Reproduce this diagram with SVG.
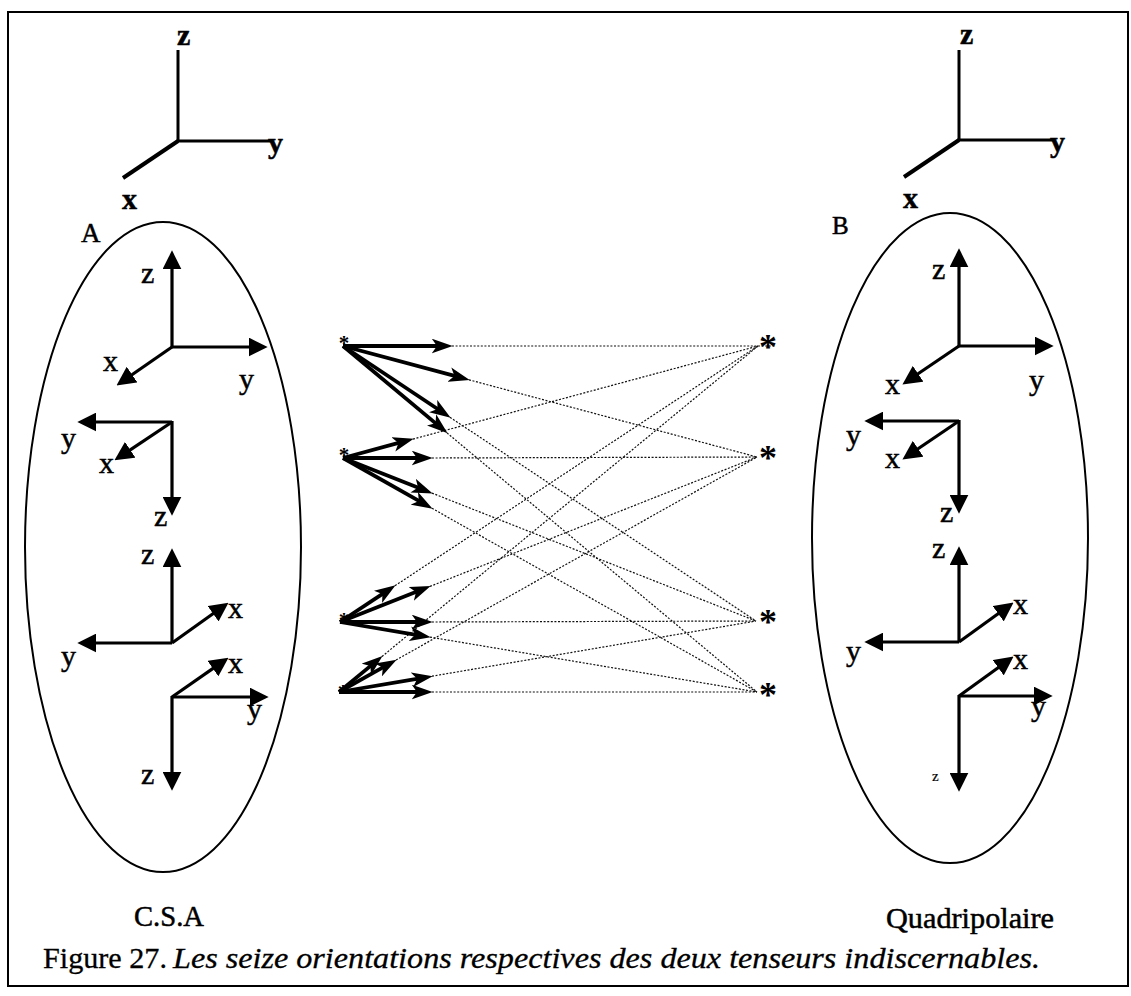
<svg xmlns="http://www.w3.org/2000/svg" width="1131" height="996" viewBox="0 0 1131 996">
<defs>
<marker id="tri" viewBox="0 0 18 18" refX="6" refY="9" markerWidth="19" markerHeight="19" markerUnits="userSpaceOnUse" orient="auto">
<path d="M0,0 L18,9 L0,18 z" fill="#000"/>
</marker>
<marker id="stealth" viewBox="0 0 20 14" refX="6" refY="7" markerWidth="21" markerHeight="15" markerUnits="userSpaceOnUse" orient="auto">
<path d="M0,0 L20,7 L0,14 L5,7 z" fill="#000"/>
</marker>
</defs>
<style>
.lbl{font-family:"Liberation Serif","Times New Roman",serif;font-size:30px;fill:#000;stroke:#000;stroke-width:0.5}
.bl{font-weight:bold}
.ax{stroke:#000;stroke-width:3;fill:none;stroke-linecap:butt}
.ar{stroke:#000;stroke-width:3.2;fill:none;marker-end:url(#tri)}
.sa{stroke:#000;stroke-width:3.8;fill:none;marker-end:url(#stealth)}
.dot{stroke:#111;stroke-width:1.2;stroke-dasharray:2 1.6;fill:none}
.ell{stroke:#000;stroke-width:2;fill:none}
.star{font-family:"Liberation Serif","Times New Roman",serif;font-weight:bold;fill:#000;text-anchor:middle}
</style>
<rect x="8" y="12" width="1120" height="974" fill="#fff" stroke="#000" stroke-width="2"/>

<g id="axes-top-left">
<line class="ax" x1="178" y1="141" x2="178" y2="50"/>
<line class="ax" x1="178" y1="141" x2="272" y2="141"/>
<line class="ax" x1="178" y1="141" x2="123" y2="178" style="stroke-width:4"/>
<text class="lbl bl" x="177" y="45">z</text>
<text class="lbl bl" x="268" y="153">y</text>
<text class="lbl bl" x="122" y="209">x</text>
</g>

<g id="axes-top-right">
<line class="ax" x1="959" y1="140" x2="959" y2="50"/>
<line class="ax" x1="959" y1="140" x2="1053" y2="140"/>
<line class="ax" x1="959" y1="140" x2="904" y2="177" style="stroke-width:4"/>
<text class="lbl bl" x="960" y="44">z</text>
<text class="lbl bl" x="1050" y="152">y</text>
<text class="lbl bl" x="903" y="208">x</text>
</g>

<g id="group-A">
<ellipse class="ell" cx="163" cy="547" rx="138" ry="325"/>
<text class="lbl" x="81" y="242" style="font-size:27px">A</text>
<text class="lbl" x="134" y="926" textLength="70" lengthAdjust="spacingAndGlyphs">C.S.A</text>
<g id="A1">
<line class="ar" x1="172" y1="347" x2="172" y2="263"/>
<line class="ar" x1="172" y1="347" x2="255" y2="347"/>
<line class="ar" x1="172" y1="347" x2="126.9" y2="378.2"/>
<text class="lbl" x="141" y="283">z</text>
<text class="lbl" x="103" y="371">x</text>
<text class="lbl" x="239" y="389">y</text>
</g>
<g id="A2">
<line class="ar" x1="172" y1="422" x2="90" y2="422"/>
<line class="ar" x1="172" y1="422" x2="125" y2="453.3"/>
<line class="ar" x1="172" y1="421" x2="172" y2="503"/>
<text class="lbl" x="61" y="448">y</text>
<text class="lbl" x="99" y="473">x</text>
<text class="lbl" x="154" y="526">z</text>
</g>
<g id="A3">
<line class="ar" x1="172" y1="643" x2="172" y2="561"/>
<line class="ar" x1="172" y1="643" x2="90" y2="643"/>
<line class="ar" x1="172" y1="643" x2="218.2" y2="610"/>
<text class="lbl" x="141" y="564">z</text>
<text class="lbl" x="228" y="618">x</text>
<text class="lbl" x="61" y="666">y</text>
</g>
<g id="A4">
<line class="ar" x1="172" y1="697" x2="218.1" y2="664.9"/>
<line class="ar" x1="172" y1="697" x2="256" y2="697"/>
<line class="ar" x1="172" y1="696" x2="172" y2="778"/>
<text class="lbl" x="228" y="673">x</text>
<text class="lbl" x="247" y="719">y</text>
<text class="lbl" x="141" y="784">z</text>
</g>
</g>

<g id="group-B">
<ellipse class="ell" cx="950" cy="538" rx="138" ry="325"/>
<text class="lbl" x="832" y="234" style="font-size:25px">B</text>
<text class="lbl" x="886" y="928" textLength="168" lengthAdjust="spacingAndGlyphs">Quadripolaire</text>
<g id="B1">
<line class="ar" x1="959" y1="346" x2="959" y2="261"/>
<line class="ar" x1="959" y1="346" x2="1041" y2="346"/>
<line class="ar" x1="959" y1="346" x2="912.9" y2="377.3"/>
<text class="lbl" x="932" y="279">z</text>
<text class="lbl" x="885" y="394">x</text>
<text class="lbl" x="1029" y="390">y</text>
</g>
<g id="B2">
<line class="ar" x1="959" y1="421" x2="877" y2="421"/>
<line class="ar" x1="959" y1="421" x2="912.9" y2="452.3"/>
<line class="ar" x1="959" y1="420" x2="959" y2="501"/>
<text class="lbl" x="846" y="445">y</text>
<text class="lbl" x="885" y="468">x</text>
<text class="lbl" x="940" y="522">z</text>
</g>
<g id="B3">
<line class="ar" x1="959" y1="642" x2="959" y2="559"/>
<line class="ar" x1="959" y1="642" x2="877" y2="642"/>
<line class="ar" x1="959" y1="642" x2="1003.3" y2="610"/>
<text class="lbl" x="932" y="558">z</text>
<text class="lbl" x="1013" y="614">x</text>
<text class="lbl" x="846" y="661">y</text>
</g>
<g id="B4">
<line class="ar" x1="959" y1="696" x2="1003.3" y2="664"/>
<line class="ar" x1="959" y1="696" x2="1040" y2="696"/>
<line class="ar" x1="959" y1="695" x2="959" y2="779"/>
<text class="lbl" x="1013" y="669">x</text>
<text class="lbl" x="1031" y="716">y</text>
<text class="lbl" x="932" y="781" style="font-size:15px;stroke-width:0.2">z</text>
</g>
</g>

<g id="stars-left">
<text class="star" x="344" y="350" font-size="21">*</text>
<text class="star" x="344" y="462" font-size="21">*</text>
<text class="star" x="344" y="627" font-size="21">*</text>
<text class="star" x="343" y="699" font-size="21">*</text>
</g>
<g id="stars-right">
<text class="star" x="768" y="359" font-size="36">*</text>
<text class="star" x="768" y="470" font-size="36">*</text>
<text class="star" x="768" y="634" font-size="36">*</text>
<text class="star" x="768" y="707" font-size="36">*</text>
</g>

<g id="connectors">
<line class="dot" x1="452" y1="346" x2="776" y2="346"/>
<line class="dot" x1="469" y1="379.8" x2="757" y2="457"/>
<line class="dot" x1="450" y1="417.3" x2="756" y2="621"/>
<line class="dot" x1="447" y1="432.9" x2="757" y2="692"/>

<line class="dot" x1="413" y1="439.1" x2="758" y2="346"/>
<line class="dot" x1="432" y1="458" x2="757" y2="457"/>
<line class="dot" x1="432" y1="493.1" x2="756" y2="621"/>
<line class="dot" x1="432" y1="508.3" x2="757" y2="692"/>

<line class="dot" x1="395" y1="585.7" x2="758" y2="346"/>
<line class="dot" x1="430" y1="586.4" x2="757" y2="457"/>
<line class="dot" x1="432" y1="622" x2="756" y2="621"/>
<line class="dot" x1="430" y1="637.1" x2="757" y2="692"/>

<line class="dot" x1="382" y1="656.5" x2="758" y2="346"/>
<line class="dot" x1="396" y1="660" x2="757" y2="457"/>
<line class="dot" x1="432" y1="676.2" x2="756" y2="621"/>
<line class="dot" x1="432" y1="692" x2="757" y2="692"/>

<line class="sa" x1="343" y1="346" x2="438" y2="346"/>
<line class="sa" x1="343" y1="346" x2="455.5" y2="376.2"/>
<line class="sa" x1="343" y1="346" x2="438.4" y2="409.5"/>
<line class="sa" x1="343" y1="346" x2="436.3" y2="423.9"/>

<line class="sa" x1="343" y1="458" x2="399.5" y2="442.7"/>
<line class="sa" x1="343" y1="458" x2="418" y2="458"/>
<line class="sa" x1="343" y1="458" x2="419" y2="488"/>
<line class="sa" x1="343" y1="458" x2="419.8" y2="501.4"/>

<line class="sa" x1="340" y1="622" x2="383.3" y2="593.4"/>
<line class="sa" x1="340" y1="622" x2="417" y2="591.5"/>
<line class="sa" x1="340" y1="622" x2="418" y2="622"/>
<line class="sa" x1="340" y1="622" x2="416.2" y2="634.8"/>

<line class="sa" x1="339" y1="692" x2="371.2" y2="665.4"/>
<line class="sa" x1="339" y1="692" x2="383.8" y2="666.9"/>
<line class="sa" x1="339" y1="692" x2="418.2" y2="678.6"/>
<line class="sa" x1="339" y1="692" x2="418" y2="692"/>
</g>

<g id="caption">
<text class="lbl" x="43" y="968" style="font-size:30px;stroke-width:0.3" textLength="124" lengthAdjust="spacingAndGlyphs">Figure 27.</text>
<text class="lbl" x="173" y="968" style="font-size:30px;stroke-width:0.3" font-style="italic" textLength="867" lengthAdjust="spacingAndGlyphs">Les seize orientations respectives des deux tenseurs indiscernables.</text>
</g>
</svg>
